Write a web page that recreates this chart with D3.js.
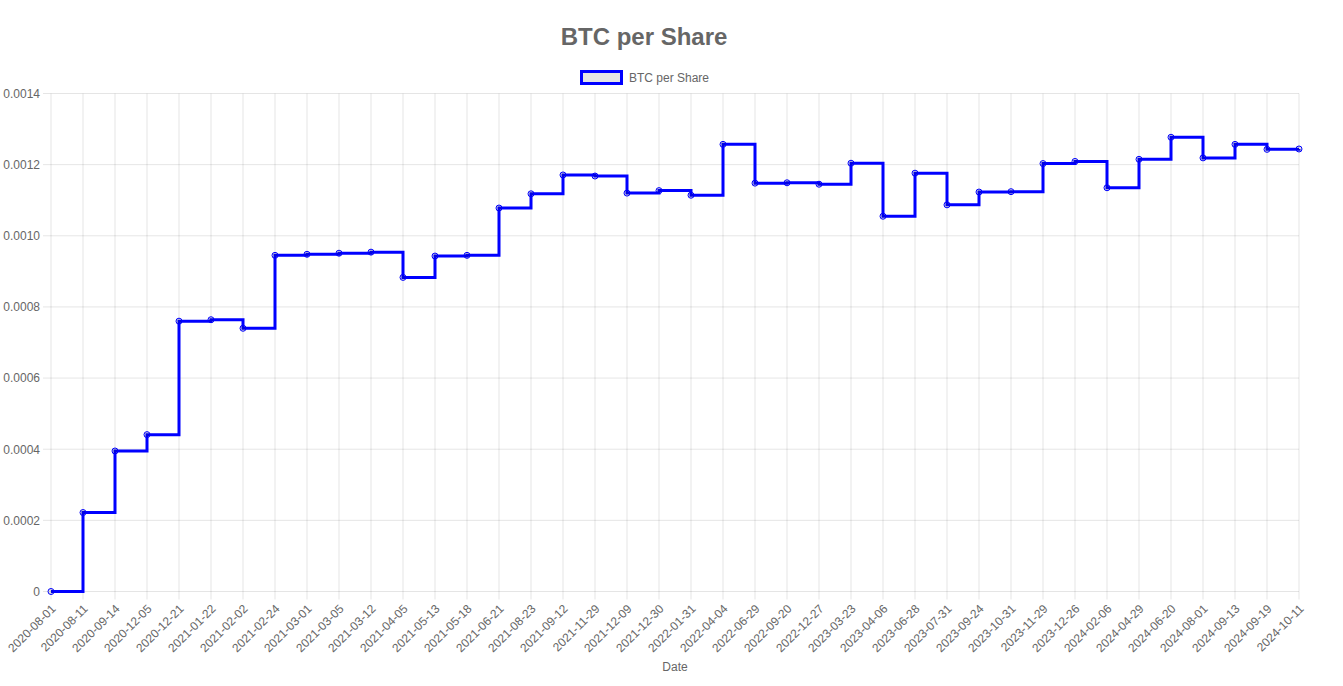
<!DOCTYPE html>
<html>
<head>
<meta charset="utf-8">
<script src="https://cdn.jsdelivr.net/npm/d3@7"></script>
<style>
  body { margin: 0; background: #fff; }
  #plotDiv { width: 1343px; height: 686px; }
  text { font-family: "Liberation Sans", Arial, Helvetica, sans-serif; fill: #666; }
  .domain { display: none; }
</style>
</head>
<body>
<div id="plotDiv"></div>
<script>
var dates = ["2020-08-01","2020-08-11","2020-09-14","2020-12-05","2020-12-21","2021-01-22","2021-02-02","2021-02-24",
  "2021-03-01","2021-03-05","2021-03-12","2021-04-05","2021-05-13","2021-05-18","2021-06-21","2021-08-23",
  "2021-09-12","2021-11-29","2021-12-09","2021-12-30","2022-01-31","2022-04-04","2022-06-29","2022-09-20",
  "2022-12-27","2023-03-23","2023-04-06","2023-06-28","2023-07-31","2023-09-24","2023-10-31","2023-11-29",
  "2023-12-26","2024-02-06","2024-04-29","2024-06-20","2024-08-01","2024-09-13","2024-09-19","2024-10-11"];

var btcPerShare = [0, 0.000222, 0.000395, 0.000441, 0.000760, 0.000764, 0.000740, 0.000945,
  0.000948, 0.000951, 0.000954, 0.000883, 0.000943, 0.000945, 0.001078, 0.001118,
  0.001171, 0.001168, 0.001120, 0.001127, 0.001114, 0.001257, 0.001148, 0.001149,
  0.001145, 0.001204, 0.001055, 0.001176, 0.001087, 0.001123, 0.001124, 0.001203,
  0.001209, 0.001135, 0.001215, 0.001277, 0.001219, 0.001257, 0.001243, 0.001244];

var yTicks = [0, 0.0002, 0.0004, 0.0006, 0.0008, 0.0010, 0.0012, 0.0014];
var yTickLabels = ["0", "0.0002", "0.0004", "0.0006", "0.0008", "0.0010", "0.0012", "0.0014"];

window.addEventListener("load", makeChart)

function makeChart() {
    var W = 1343, H = 686;
    var margin = {top: 93.5, right: 44, bottom: 94.5, left: 51};
    var plotW = W - margin.left - margin.right;
    var plotH = H - margin.top - margin.bottom;
    var gridColor = "rgba(0,0,0,0.1)";

    var svg = d3.select("#plotDiv")
        .append("svg")
        .attr("width", W)
        .attr("height", H);

    var x = d3.scalePoint()
        .domain(dates)
        .range([0, plotW]);

    var y = d3.scaleLinear()
        .domain([0, 0.0014])
        .range([plotH, 0]);

    var g = svg.append("g")
        .attr("transform", "translate(" + margin.left + "," + margin.top + ")");

    // grid
    g.append("g").selectAll("line")
        .data(yTicks)
        .enter().append("line")
        .attr("x1", -8).attr("x2", plotW)
        .attr("y1", function(d) { return y(d); })
        .attr("y2", function(d) { return y(d); })
        .attr("stroke", gridColor);

    g.append("g").selectAll("line")
        .data(dates)
        .enter().append("line")
        .attr("x1", function(d) { return x(d); })
        .attr("x2", function(d) { return x(d); })
        .attr("y1", 0).attr("y2", plotH + 8)
        .attr("stroke", gridColor);

    // y axis labels
    var yAxis = d3.axisLeft(y)
        .tickValues(yTicks)
        .tickFormat(function(d, i) { return yTickLabels[i]; })
        .tickSize(0)
        .tickPadding(11);
    g.append("g").call(yAxis)
        .selectAll("text")
        .style("font-size", "12px")
        .attr("fill", "#666");

    // x axis labels
    var xAxis = d3.axisBottom(x).tickSize(0);
    var xg = g.append("g")
        .attr("transform", "translate(0," + plotH + ")")
        .call(xAxis);
    xg.selectAll("text")
        .style("font-size", "12px")
        .attr("fill", "#666")
        .attr("text-anchor", "end")
        .attr("dy", null)
        .attr("y", null)
        .attr("transform", "translate(5,18) rotate(-45)");

    // line
    var line = d3.line()
        .x(function(d, i) { return x(dates[i]); })
        .y(function(d) { return y(d); })
        .curve(d3.curveStepAfter);

    g.append("path")
        .datum(btcPerShare)
        .attr("d", line)
        .attr("fill", "none")
        .attr("stroke", "#0000ff")
        .attr("stroke-width", 3);

    g.append("g").selectAll("circle")
        .data(btcPerShare)
        .enter().append("circle")
        .attr("cx", function(d, i) { return x(dates[i]); })
        .attr("cy", function(d) { return y(d); })
        .attr("r", 3)
        .attr("fill", "rgba(0,0,0,0.1)")
        .attr("stroke", "#0000ff")
        .attr("stroke-width", 1);

    // title
    svg.append("text")
        .attr("x", 644)
        .attr("y", 45)
        .attr("text-anchor", "middle")
        .style("font-size", "24px")
        .style("font-weight", "bold")
        .text("BTC per Share");

    // legend
    var leg = svg.append("g").attr("transform", "translate(581,71)");
    leg.append("rect")
        .attr("x", 0.5).attr("y", 0.5)
        .attr("width", 40).attr("height", 12)
        .attr("fill", "rgba(0,0,0,0.1)")
        .attr("stroke", "#0000ff")
        .attr("stroke-width", 3);
    leg.append("text")
        .attr("x", 48).attr("y", 11)
        .style("font-size", "12px")
        .text("BTC per Share");

    // x title
    svg.append("text")
        .attr("x", margin.left + plotW / 2)
        .attr("y", 671)
        .attr("text-anchor", "middle")
        .style("font-size", "12px")
        .text("Date");
}
</script>
</body>
</html>
